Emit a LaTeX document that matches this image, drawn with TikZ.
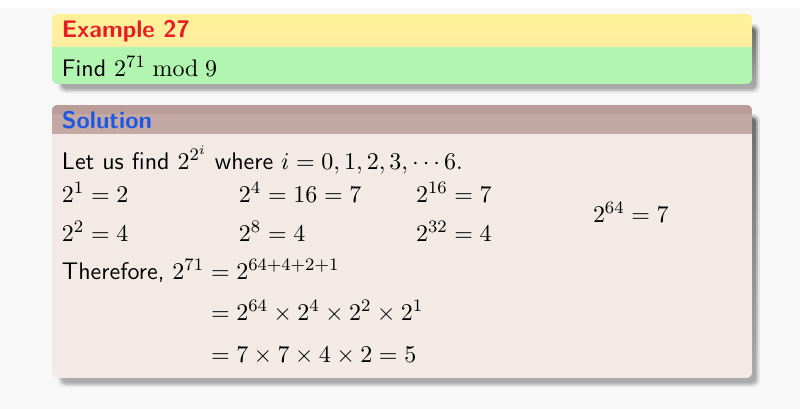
\documentclass[tikz,border=0pt]{standalone}
\usepackage{amsmath}
\usepackage{amssymb}
\usetikzlibrary{calc}

\definecolor{bggray}{RGB}{248,248,248}
\definecolor{extitle}{RGB}{255,236,160}
\definecolor{extitletop}{RGB}{255,241,152}
\definecolor{exbody}{RGB}{177,245,177}
\definecolor{exred}{RGB}{230,30,36}
\definecolor{soltitle}{RGB}{196,168,164}
\definecolor{soltop}{RGB}{186,157,153}
\definecolor{solbody}{RGB}{243,233,229}
\definecolor{solblue}{RGB}{28,88,228}
\definecolor{shade}{RGB}{120,138,138}

\begin{document}
\begin{tikzpicture}[x=0.4563pt,y=-0.4563pt,
    font=\fontsize{10.95}{13.6}\selectfont\sffamily,
    txt/.style={anchor=base west,inner sep=0pt,outer sep=0pt},
    ttl/.style={txt,font=\fontsize{10.95}{13.6}\selectfont\sffamily\bfseries}]
  \useasboundingbox (0,0) rectangle (800,409);
  \fill[white] (0,0) rectangle (800,409);
  \fill[bggray] (0,8) rectangle (800,409);

  % shadows
  \foreach \blk/\top/\bot in {1/26/84, 2/116/378} {
    \fill[shade,opacity=0.08,rounded corners=3pt] (58,\top-2) rectangle (760,\bot+9);
    \fill[shade,opacity=0.20,rounded corners=2.5pt] (60,\top) rectangle (758,\bot+7);
    \fill[shade,opacity=0.40,rounded corners=2pt] (62,\top+2) rectangle (756,\bot+5);
  }

  % example block
  \begin{scope}
    \clip[rounded corners=2.6pt] (52,14) rectangle (752,84);
    \shade[top color=extitletop,bottom color=extitle] (52,14) rectangle (752,47);
    \fill[exbody] (52,47) rectangle (752,84);
  \end{scope}
  \node[ttl,text=exred] (ex) at (62,37) {Example 27};
  \node[txt] (find) at (62,76) {Find $2^{71} \bmod 9$};

  % solution block
  \begin{scope}
    \clip[rounded corners=2.6pt] (52,105) rectangle (752,378);
    \fill[soltitle] (52,105) rectangle (752,134);
    \fill[soltop] (52,105) rectangle (752,114);
    \fill[solbody] (52,134) rectangle (752,378);
  \end{scope}
  \node[ttl,text=solblue] (sol) at (62,128) {Solution};
  \node[txt] (let) at (62,169) {Let us find $2^{2^i}$ where $i = 0, 1, 2, 3, \cdots 6.$};

  \node[txt] (p1) at (62,202) {$2^1 = 2$};
  \node[txt] (p2) at (62,241) {$2^2 = 4$};
  \node[txt] (p4) at (239,202) {$2^4 = 16 = 7$};
  \node[txt] (p8) at (239,241) {$2^8 = 4$};
  \node[txt] (p16) at (416,202) {$2^{16} = 7$};
  \node[txt] (p32) at (416,241) {$2^{32} = 4$};
  \node[txt] (p64) at (593,222) {$2^{64} = 7$};

  \node[txt] (thf) at (62,279) {Therefore, $2^{71}$};
  \node[txt] (eq1) at (211,279) {$= 2^{64+4+2+1}$};
  \node[txt] (eq2) at (211,320) {$= 2^{64} \times 2^4 \times 2^2 \times 2^1$};
  \node[txt] (eq3) at (211,362) {$= 7 \times 7 \times 4 \times 2 = 5$};
\end{tikzpicture}
\end{document}
